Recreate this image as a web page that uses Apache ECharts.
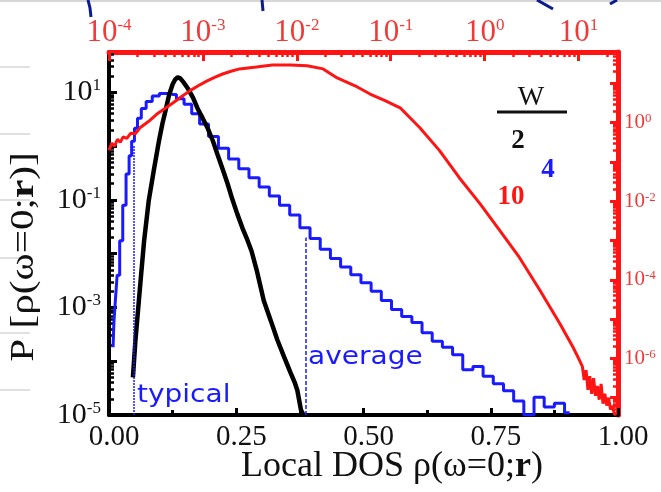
<!DOCTYPE html>
<html>
<head>
<meta charset="utf-8">
<script src="https://cdn.jsdelivr.net/npm/echarts@6/dist/echarts.min.js"></script>
</head>
<body style="margin:0;background:#fff">
<div id="main" style="width:661px;height:492px;"></div>
<script type="text/javascript">
// W = 2 (black): bottom axis rho (linear), left axis log10 P
var blackX = [0.047,0.052,0.057,0.063,0.069,0.078,0.088,0.098,0.105,0.112,0.118,0.125,0.130,0.135,0.140,0.147,0.155,0.165,0.174,0.184,0.194,0.204,0.213,0.223,0.233,0.242,0.252,0.262,0.270,0.280,0.290,0.304,0.318,0.331,0.344,0.357,0.365,0.370,0.377,0.382];
var blackLogP = [-4.30,-3.60,-3.06,-2.40,-1.76,-1.02,-0.45,0.09,0.42,0.70,0.95,1.15,1.24,1.28,1.26,1.18,1.07,0.90,0.70,0.52,0.33,0.10,-0.15,-0.42,-0.70,-0.98,-1.26,-1.52,-1.70,-1.95,-2.30,-2.87,-3.25,-3.61,-3.92,-4.22,-4.40,-4.54,-4.90,-5.00];

// W = 4 (blue)
var blueX = [0.008,0.011,0.014,0.018,0.024,0.030,0.037,0.042,0.047,0.053,0.059,0.068,0.078,0.092,0.106,0.115,0.125,0.140,0.155,0.170,0.186,
  0.205,0.225,0.245,0.265,0.285,0.305,0.325,0.345,0.365,0.385,0.405,0.425,0.445,0.465,0.485,0.505,0.525,0.545,0.565,0.585,
  0.605,0.625,0.645,0.665,0.685,0.705,0.725,0.745,0.765,0.785,0.805,0.825,0.845,0.865,0.885,0.905];
var blueLogP = [-3.74,-3.30,-2.87,-2.40,-1.76,-1.10,-0.52,-0.18,0.09,0.33,0.52,0.70,0.83,0.93,0.98,0.98,0.96,0.88,0.78,0.60,0.41,
  0.18,-0.04,-0.24,-0.42,-0.59,-0.76,-0.93,-1.10,-1.28,-1.52,-1.72,-1.92,-2.09,-2.25,-2.39,-2.54,-2.70,-2.87,-3.04,-3.17,
  -3.28,-3.47,-3.63,-3.74,-3.88,-4.16,-4.10,-4.28,-4.42,-4.55,-4.74,-5.00,-4.67,-4.85,-4.78,-4.96];

// W = 10 (red): top axis log10 rho, right axis log10 P
var redLogRho = [-4.00,-3.97,-3.94,-3.91,-3.88,-3.85,-3.81,-3.77,-3.72,-3.67,-3.58,-3.49,-3.40,-3.32,-3.23,-3.14,-3.05,-2.96,-2.87,-2.79,
  -2.70,-2.61,-2.43,-2.26,-2.07,-1.89,-1.72,-1.57,-1.38,-1.22,-1.06,-0.90,-0.69,-0.48,-0.27,-0.05,0.16,0.37,0.59,0.80,
  0.94,1.00,1.04,1.06,1.08,1.10,1.12,1.14,1.16,1.18,1.20,1.22,1.24,1.26,1.28,1.30,1.32,1.34,1.36,1.38,1.40];
var redLogP = [-0.70,-0.52,-0.60,-0.42,-0.50,-0.36,-0.40,-0.27,-0.28,-0.13,0.03,0.22,0.37,0.50,0.66,0.81,0.94,1.06,1.16,1.24,
  1.31,1.37,1.42,1.47,1.47,1.45,1.37,1.14,0.94,0.73,0.56,0.38,-0.13,-0.71,-1.40,-2.06,-2.74,-3.43,-4.27,-5.11,
  -5.71,-6.00,-6.20,-6.55,-6.30,-6.80,-6.45,-6.90,-6.50,-6.95,-6.70,-7.05,-6.65,-7.15,-6.90,-7.20,-7.00,-7.30,-7.20,-7.40,-7.44];

var typicalX = 0.049, typicalTop = 0.0;
var averageX = 0.386, averageTop = -1.70;

var bottomTicks = [0, 0.25, 0.5, 0.75, 1];
var leftExps = [-5, -3, -1, 1];
var rightExps = [-6, -4, -2, 0];
var topExps = [-4, -3, -2, -1, 0, 1];

var serif = "'Liberation Serif','Times New Roman',serif";
var sans = "'DejaVu Sans',sans-serif";
var RED = '#ff1414', BLUE = '#1a1aff', BLACK = '#000';

function zip(a, b) { var r = []; for (var i = 0; i < a.length; i++) r.push([a[i], b[i]]); return r; }
function ints(lo, hi) { var r = []; for (var n = lo; n <= hi; n++) r.push(n); return r; }
function logMinor(lo, hi) {
    var r = [];
    for (var n = Math.floor(lo); n <= Math.ceil(hi); n++)
        for (var k = 2; k < 10; k++) { var v = n + Math.log10(k); if (v > lo && v < hi) r.push(v); }
    return r;
}
function supLabel(v) { return '{b|10}{s|' + Math.round(v) + '}'; }
function supRich(color, big, small) {
    return {
        b: { fontFamily: serif, fontSize: big, color: color },
        s: { fontFamily: serif, fontSize: small, color: color, verticalAlign: 'top' }
    };
}

var myChart = echarts.init(document.getElementById('main'));

var option = {
    animation: false,
    backgroundColor: '#fff',
    grid: { left: 109, right: 43, top: 52, bottom: 77 },
    xAxis: [
        {
            type: 'value', position: 'bottom', min: 0, max: 1, interval: 0.25,
            axisLine: { onZero: false, lineStyle: { color: BLACK, width: 4 } },
            axisTick: { inside: true, length: 7, lineStyle: { color: BLACK, width: 3 } },
            minorTick: { show: true, splitNumber: 2, length: 5, lineStyle: { color: BLACK, width: 3 } },
            splitLine: { show: false },
            axisLabel: {
                customValues: bottomTicks,
                formatter: function (v) { return v.toFixed(2); },
                fontFamily: serif, fontSize: 29, color: '#111', margin: 8, padding: [0, 0, 0, 10]
            }
        },
        {
            type: 'value', position: 'top', min: -4, max: 1.42,
            axisLine: { onZero: false, lineStyle: { color: RED, width: 5 } },
            axisTick: { customValues: topExps, inside: true, length: 9, lineStyle: { color: RED, width: 3 } },
            splitLine: { show: false },
            axisLabel: { customValues: topExps, formatter: supLabel, rich: supRich('#f03a3a', 31, 17), margin: 4 }
        },
        {
            type: 'value', position: 'top', min: -4, max: 1.42,
            axisLine: { show: false, onZero: false },
            axisTick: { customValues: logMinor(-4, 1.42), inside: true, length: 5, lineStyle: { color: RED, width: 2.5 } },
            axisLabel: { show: false }, splitLine: { show: false }
        }
    ],
    yAxis: [
        {
            type: 'value', position: 'left', min: -5, max: 1.75,
            axisLine: { onZero: false, lineStyle: { color: BLACK, width: 4 } },
            axisTick: { customValues: ints(-5, 1), inside: true, length: 8, lineStyle: { color: BLACK, width: 3 } },
            splitLine: { show: false },
            axisLabel: { customValues: leftExps, formatter: supLabel, rich: supRich('#111', 30, 17), margin: 8 }
        },
        {
            type: 'value', position: 'right', min: -7.44, max: 1.8,
            axisLine: { onZero: false, lineStyle: { color: RED, width: 5 } },
            axisTick: { customValues: ints(-7, 1), inside: true, length: 8, lineStyle: { color: RED, width: 3 } },
            splitLine: { show: false },
            axisLabel: { customValues: rightExps, formatter: supLabel, rich: supRich('#f03a3a', 21, 13), margin: 6 }
        },
        {
            type: 'value', position: 'left', min: -5, max: 1.75,
            axisLine: { show: false, onZero: false },
            axisTick: { customValues: logMinor(-5, 1.75), inside: true, length: 5, lineStyle: { color: BLACK, width: 2.5 } },
            axisLabel: { show: false }, splitLine: { show: false }
        },
        {
            type: 'value', position: 'right', min: -7.44, max: 1.8,
            axisLine: { show: false, onZero: false },
            axisTick: { customValues: logMinor(-7.44, 1.8), inside: true, length: 5, lineStyle: { color: RED, width: 2.5 } },
            axisLabel: { show: false }, splitLine: { show: false }
        }
    ],
    series: [
        {
            name: '4', type: 'line', xAxisIndex: 0, yAxisIndex: 0,
            data: zip(blueX, blueLogP), step: 'middle', showSymbol: false,
            lineStyle: { color: BLUE, width: 3 }, itemStyle: { color: BLUE },
            markLine: {
                silent: true, symbol: ['none', 'none'], label: { show: false },
                data: [
                    [{ coord: [typicalX, -5], lineStyle: { color: BLUE, width: 1.5, type: [2, 1] } }, { coord: [typicalX, typicalTop] }],
                    [{ coord: [averageX, -5], lineStyle: { color: BLUE, width: 1.5, type: [4, 2] } }, { coord: [averageX, averageTop] }]
                ]
            }
        },
        {
            name: '2', type: 'line', xAxisIndex: 0, yAxisIndex: 0,
            data: zip(blackX, blackLogP), showSymbol: false,
            lineStyle: { color: BLACK, width: 4.5 }, itemStyle: { color: BLACK }
        },
        {
            name: '10', type: 'line', xAxisIndex: 1, yAxisIndex: 1,
            data: zip(redLogRho, redLogP), showSymbol: false,
            lineStyle: { color: RED, width: 3 }, itemStyle: { color: RED }
        }
    ],
    graphic: [
        // slide residue: grey rules and hand-drawn strokes
        { type: 'line', shape: { x1: 0, y1: 1, x2: 661, y2: 1 }, style: { stroke: '#d6d6d6', lineWidth: 2 } },
        { type: 'line', shape: { x1: 0, y1: 67, x2: 30, y2: 67 }, style: { stroke: '#d6d6d6', lineWidth: 1.5 } },
        { type: 'line', shape: { x1: 0, y1: 134, x2: 30, y2: 134 }, style: { stroke: '#d6d6d6', lineWidth: 1.5 } },
        { type: 'line', shape: { x1: 0, y1: 200, x2: 30, y2: 200 }, style: { stroke: '#d6d6d6', lineWidth: 1.5 } },
        { type: 'line', shape: { x1: 0, y1: 258, x2: 30, y2: 258 }, style: { stroke: '#d6d6d6', lineWidth: 1.5 } },
        { type: 'line', shape: { x1: 0, y1: 333, x2: 30, y2: 333 }, style: { stroke: '#d6d6d6', lineWidth: 1.5 } },
        { type: 'line', shape: { x1: 0, y1: 390, x2: 30, y2: 390 }, style: { stroke: '#d6d6d6', lineWidth: 1.5 } },
        { type: 'polyline', shape: { points: [[88, 0], [90, 8], [91, 17]] }, style: { stroke: '#0b1a8c', lineWidth: 3, fill: null } },
        { type: 'line', shape: { x1: 262, y1: 0, x2: 263, y2: 11 }, style: { stroke: '#0b1a8c', lineWidth: 3 } },
        { type: 'line', shape: { x1: 537, y1: 0, x2: 553, y2: 9 }, style: { stroke: '#0b1a8c', lineWidth: 3 } },
        { type: 'line', shape: { x1: 610, y1: 4, x2: 617, y2: 0 }, style: { stroke: '#0b1a8c', lineWidth: 3 } },
        // axis titles
        {
            type: 'text', x: 24, y: 257, rotation: Math.PI / 2, scaleX: 1.25,
            style: {
                text: 'P [ρ(ω=0;{r|r})]', fontFamily: serif, fontSize: 33, fill: '#111',
                align: 'center', verticalAlign: 'middle',
                rich: { r: { fontFamily: serif, fontSize: 33, fontWeight: 'bold', fill: '#111' } }
            }
        },
        {
            type: 'text', x: 392, y: 467,
            style: {
                text: 'Local DOS ρ(ω=0;{r|r})', fontFamily: serif, fontSize: 36, fill: '#111',
                align: 'center', verticalAlign: 'middle',
                rich: { r: { fontFamily: serif, fontSize: 36, fontWeight: 'bold', fill: '#111' } }
            }
        },
        // annotations
        { type: 'text', x: 137, y: 395, scaleX: 1.12, style: { text: 'typical', fontFamily: sans, fontSize: 25, fill: BLUE, align: 'left', verticalAlign: 'middle' } },
        { type: 'text', x: 308, y: 357, scaleX: 1.12, style: { text: 'average', fontFamily: sans, fontSize: 25, fill: BLUE, align: 'left', verticalAlign: 'middle' } },
        // W legend
        { type: 'text', x: 531, y: 98, style: { text: 'W', fontFamily: serif, fontSize: 28, fill: '#111', align: 'center', verticalAlign: 'middle' } },
        { type: 'line', shape: { x1: 497, y1: 112, x2: 567, y2: 112 }, style: { stroke: '#111', lineWidth: 3 } },
        { type: 'text', x: 518, y: 141, style: { text: '2', fontFamily: serif, fontSize: 27, fontWeight: 'bold', fill: '#111', align: 'center', verticalAlign: 'middle' } },
        { type: 'text', x: 548, y: 170, style: { text: '4', fontFamily: serif, fontSize: 27, fontWeight: 'bold', fill: BLUE, align: 'center', verticalAlign: 'middle' } },
        { type: 'text', x: 511, y: 197, style: { text: '10', fontFamily: serif, fontSize: 27, fontWeight: 'bold', fill: RED, align: 'center', verticalAlign: 'middle' } }
    ]
};

myChart.setOption(option);
</script>
</body>
</html>
